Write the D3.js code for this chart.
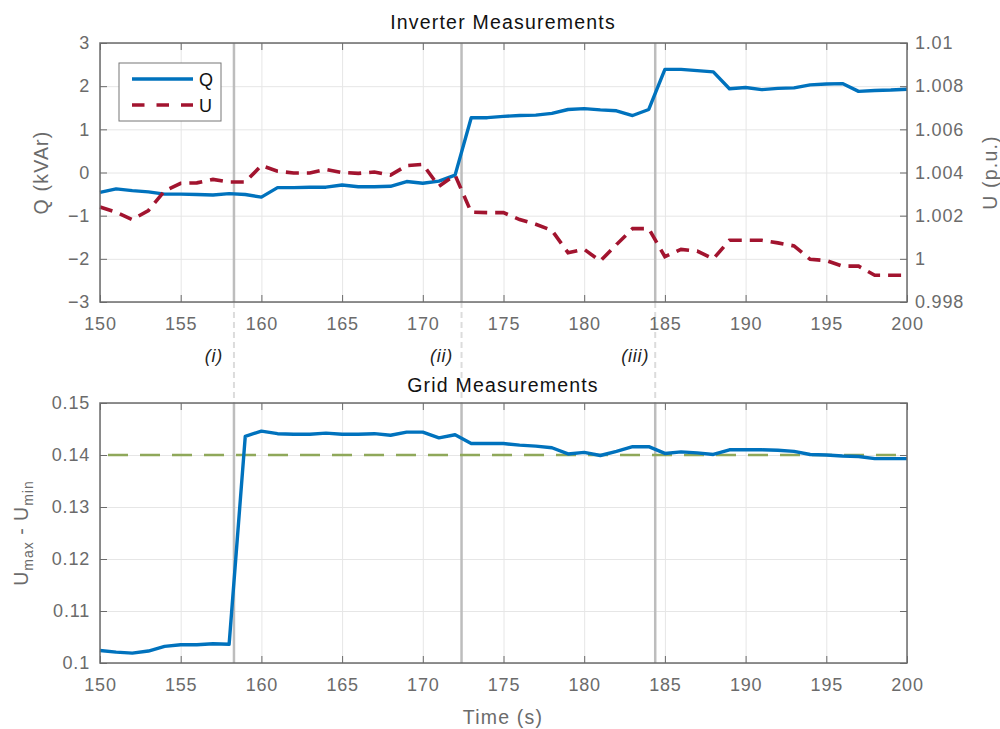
<!DOCTYPE html>
<html>
<head>
<meta charset="utf-8">
<style>
  body { margin: 0; background: #fff; }
  svg text { font-family: "Liberation Sans", Arial, sans-serif; }
  .tick text { fill: #6b6b6b; font-size: 18px; letter-spacing: 0.8px; }
  .tick line { stroke: #6b6b6b; }
  .grid .tick line { stroke: #e6e6e6; }
</style>
</head>
<body>
<svg width="1000" height="729"></svg>
<script src="https://cdn.jsdelivr.net/npm/d3@7"></script>
<script>
// time axis (s)
var time = [150,151,152,153,154,155,156,157,158,159,160,161,162,163,164,165,166,167,168,169,170,
            171,172,173,174,175,176,177,178,179,180,181,182,183,184,185,186,187,188,189,190,
            191,192,193,194,195,196,197,198,199,200];

// inverter reactive power Q (kVAr)
var qVals = [-0.46,-0.38,-0.42,-0.45,-0.50,-0.50,-0.51,-0.52,-0.49,-0.51,-0.57,-0.35,-0.35,-0.34,-0.34,-0.29,-0.33,-0.33,-0.32,-0.21,-0.25,
             -0.20,-0.06,1.27,1.27,1.30,1.32,1.33,1.37,1.46,1.48,1.45,1.43,1.32,1.46,2.39,2.39,2.36,2.33,1.94,1.97,
             1.92,1.95,1.96,2.03,2.05,2.06,1.88,1.90,1.91,1.93];

// inverter voltage U (p.u.)
var uVals = [1.0024,1.00216,1.00182,1.00224,1.00314,1.0035,1.00352,1.00368,1.00356,1.00356,1.00432,1.00406,1.00398,1.00398,1.00414,1.004,1.00396,1.00402,1.00388,1.00432,1.00438,
             1.00336,1.00388,1.00216,1.00214,1.00214,1.00182,1.0016,1.00132,1.00028,1.00044,0.9999,1.00066,1.0014,1.0014,1.0001,1.00044,1.00036,1.0,1.00086,1.00086,
             1.00086,1.00074,1.0006,0.99998,0.99992,0.99966,0.99966,0.99924,0.99924,0.99924];

// grid spread Umax - Umin
var spread = [0.1024,0.1021,0.1019,0.1023,0.1032,0.1035,0.1035,0.1037,0.1036,0.1436,0.1446,0.1441,0.1440,0.1440,0.1442,0.1440,0.1440,0.1441,0.1438,0.1444,0.1444,
              0.1433,0.1439,0.1422,0.1422,0.1422,0.1419,0.1417,0.1414,0.1402,0.1405,0.1399,0.1407,0.1416,0.1416,0.1403,0.1406,0.1404,0.1401,0.1410,0.1410,
              0.1410,0.1409,0.1407,0.1401,0.1400,0.1398,0.1397,0.1393,0.1393,0.1393];

var limit = 0.14;
var events = [158.3, 172.4, 184.4];
var eventLabels = ["(i)", "(ii)", "(iii)"];
var xTicks = [150,155,160,165,170,175,180,185,190,195,200];
var qTicks = [-3,-2,-1,0,1,2,3];
var uTicks = [0.998,1,1.002,1.004,1.006,1.008,1.01];
var sTicks = [0.1,0.11,0.12,0.13,0.14,0.15];

var svg = d3.select("svg");
var left = 100, right = 907;
var top1 = 43, bot1 = 302, top2 = 403, bot2 = 663;
var axisColor = "#6b6b6b";

var x = d3.scaleLinear().domain([150, 200]).range([left, right]);
var yQ = d3.scaleLinear().domain([-3, 3]).range([bot1, top1]);
var yU = d3.scaleLinear().domain([0.998, 1.01]).range([bot1, top1]);
var yS = d3.scaleLinear().domain([0.1, 0.15]).range([bot2, top2]);

function fmt(d) { return d3.format("")(+d.toFixed(4)); }

function panel(y, yTicks, yTop, yBot) {
  // grid
  svg.append("g").attr("class", "grid")
    .attr("transform", "translate(0," + yBot + ")")
    .call(d3.axisBottom(x).tickValues(xTicks).tickSize(-(yBot - yTop)).tickFormat(""))
    .call(function(g) { g.select(".domain").remove(); });
  svg.append("g").attr("class", "grid")
    .attr("transform", "translate(" + left + ",0)")
    .call(d3.axisLeft(y).tickValues(yTicks).tickSize(-(right - left)).tickFormat(""))
    .call(function(g) { g.select(".domain").remove(); });
}

function frame(y, yTicks, yTop, yBot) {
  svg.append("g")
    .attr("transform", "translate(0," + yBot + ")")
    .call(d3.axisBottom(x).tickValues(xTicks).tickSizeInner(-7).tickSizeOuter(0).tickPadding(15))
    .call(function(g) { g.select(".domain").remove(); });
  svg.append("g")
    .attr("transform", "translate(0," + yTop + ")")
    .call(d3.axisTop(x).tickValues(xTicks).tickSizeInner(-7).tickSizeOuter(0).tickFormat(""))
    .call(function(g) { g.select(".domain").remove(); });
  svg.append("g")
    .attr("transform", "translate(" + left + ",0)")
    .call(d3.axisLeft(y).tickValues(yTicks).tickSizeInner(-7).tickSizeOuter(0).tickPadding(10).tickFormat(fmt))
    .call(function(g) { g.select(".domain").remove(); });
  svg.append("rect")
    .attr("x", left).attr("y", yTop)
    .attr("width", right - left).attr("height", yBot - yTop)
    .attr("fill", "none").attr("stroke", axisColor).attr("stroke-width", 1.5);
}

panel(yQ, qTicks, top1, bot1);
panel(yS, sTicks, top2, bot2);

// event markers
events.forEach(function(t, i) {
  svg.append("line").attr("x1", x(t)).attr("x2", x(t)).attr("y1", top1).attr("y2", bot1)
    .attr("stroke", "#bdbdbd").attr("stroke-width", 2.5);
  svg.append("line").attr("x1", x(t)).attr("x2", x(t)).attr("y1", bot1).attr("y2", top2)
    .attr("stroke", "#dcdcdc").attr("stroke-width", 2).attr("stroke-dasharray", "6,4");
  svg.append("line").attr("x1", x(t)).attr("x2", x(t)).attr("y1", top2).attr("y2", bot2)
    .attr("stroke", "#bdbdbd").attr("stroke-width", 2.5);
  svg.append("text").attr("x", x(t) - 20).attr("y", 362)
    .attr("text-anchor", "middle").attr("font-size", 18).attr("font-style", "italic")
    .attr("letter-spacing", "0.8px").attr("fill", "#222").text(eventLabels[i]);
});

var lineQ = d3.line().x(function(d, i) { return x(time[i]); }).y(function(d) { return yQ(d); });
var lineU = d3.line().x(function(d, i) { return x(time[i]); }).y(function(d) { return yU(d); });
var lineS = d3.line().x(function(d, i) { return x(time[i]); }).y(function(d) { return yS(d); });

svg.append("path").datum(qVals).attr("d", lineQ)
  .attr("fill", "none").attr("stroke", "#0072BD").attr("stroke-width", 3.4).attr("stroke-linejoin", "round");
svg.append("path").datum(uVals).attr("d", lineU)
  .attr("fill", "none").attr("stroke", "#A2142F").attr("stroke-width", 3.6).attr("stroke-dasharray", "13,8");

// bottom panel
svg.append("line").attr("x1", x(150)).attr("x2", x(200)).attr("y1", yS(limit)).attr("y2", yS(limit))
  .attr("stroke", "#8fa85a").attr("stroke-width", 2.5).attr("stroke-dasharray", "20,12")
  .attr("stroke-dashoffset", -8);
svg.append("path").datum(spread).attr("d", lineS)
  .attr("fill", "none").attr("stroke", "#0072BD").attr("stroke-width", 3.4).attr("stroke-linejoin", "round");

frame(yQ, qTicks, top1, bot1);
frame(yS, sTicks, top2, bot2);

// right axes
svg.append("g")
  .attr("transform", "translate(" + right + ",0)")
  .call(d3.axisRight(yU).tickValues(uTicks).tickSizeInner(-7).tickSizeOuter(0).tickPadding(8).tickFormat(fmt))
  .call(function(g) { g.select(".domain").remove(); });
svg.append("g")
  .attr("transform", "translate(" + right + ",0)")
  .call(d3.axisRight(yS).tickValues(sTicks).tickSizeInner(-7).tickSizeOuter(0).tickFormat(""))
  .call(function(g) { g.select(".domain").remove(); });

// legend
var lg = svg.append("g");
lg.append("rect").attr("x", 119).attr("y", 63).attr("width", 102).attr("height", 58)
  .attr("fill", "#fff").attr("stroke", "#777").attr("stroke-width", 1);
lg.append("line").attr("x1", 132).attr("x2", 193).attr("y1", 79).attr("y2", 79)
  .attr("stroke", "#0072BD").attr("stroke-width", 3.4);
lg.append("line").attr("x1", 132).attr("x2", 193).attr("y1", 105).attr("y2", 105)
  .attr("stroke", "#A2142F").attr("stroke-width", 3.6).attr("stroke-dasharray", "12.5,12");
lg.append("text").attr("x", 199).attr("y", 86).attr("font-size", 18).attr("fill", "#111").text("Q");
lg.append("text").attr("x", 199).attr("y", 112).attr("font-size", 18).attr("fill", "#111").text("U");

// titles and labels
svg.append("text").attr("x", 503).attr("y", 29).attr("text-anchor", "middle")
  .attr("font-size", 19.5).attr("letter-spacing", "1.2px").attr("fill", "#111").text("Inverter Measurements");
svg.append("text").attr("x", 503).attr("y", 392).attr("text-anchor", "middle")
  .attr("font-size", 19.5).attr("letter-spacing", "1.2px").attr("fill", "#111").text("Grid Measurements");
svg.append("text").attr("x", 503).attr("y", 724).attr("text-anchor", "middle")
  .attr("font-size", 19.5).attr("letter-spacing", "1.2px").attr("fill", axisColor).text("Time (s)");
svg.append("text").attr("transform", "translate(48," + (top1 + bot1) / 2 + ") rotate(-90)")
  .attr("text-anchor", "middle").attr("font-size", 19.5).attr("letter-spacing", "1.2px")
  .attr("fill", axisColor).text("Q (kVAr)");
svg.append("text").attr("transform", "translate(997," + (top1 + bot1) / 2 + ") rotate(-90)")
  .attr("text-anchor", "middle").attr("font-size", 19.5).attr("letter-spacing", "1.2px")
  .attr("fill", axisColor).text("U (p.u.)");

var yl = svg.append("text").attr("transform", "translate(28," + (top2 + bot2) / 2 + ") rotate(-90)")
  .attr("text-anchor", "middle").attr("font-size", 19.5).attr("letter-spacing", "1px").attr("fill", axisColor);
yl.append("tspan").text("U");
yl.append("tspan").attr("font-size", 14).attr("dy", 5).text("max");
yl.append("tspan").attr("dy", -5).text(" - U");
yl.append("tspan").attr("font-size", 14).attr("dy", 5).text("min");
</script>
</body>
</html>
